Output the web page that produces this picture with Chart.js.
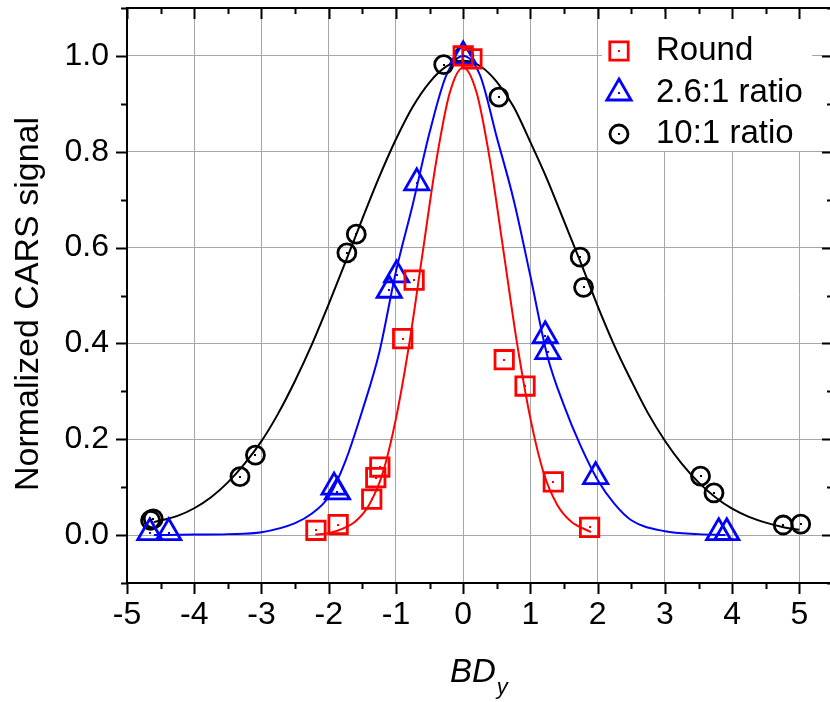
<!DOCTYPE html>
<html>
<head>
<meta charset="utf-8">
<script src="https://cdn.jsdelivr.net/npm/chart.js@4.4.1/dist/chart.umd.min.js"></script>
<style>
  html, body { margin: 0; padding: 0; background: #fff; overflow: hidden; }
  #wrap { width: 840px; height: 702px; }
</style>
</head>
<body>
<div id="wrap"><canvas id="chart" width="840" height="702"></canvas></div>
<script>
/* ---------- measured points ---------- */
const roundX = [-2.19, -1.86, -1.36, -1.30, -1.24, -0.90, -0.73, 0.0, 0.13, 0.61, 0.92, 1.34, 1.88];
const roundY = [0.010, 0.022, 0.075, 0.120, 0.142, 0.410, 0.532, 1.0, 0.994, 0.366, 0.311, 0.111, 0.016];

const ratio26X = [-4.66, -4.38, -1.92, -1.87, -1.10, -0.99, -0.69, 0.0, 1.22, 1.26, 1.97, 3.80, 3.92];
const ratio26Y = [0.005, 0.005, 0.100, 0.090, 0.511, 0.543, 0.735, 1.0, 0.416, 0.383, 0.122, 0.005, 0.005];

const ratio10X = [-4.65, -4.61, -3.32, -3.09, -1.73, -1.59, -0.29, 0.01, 0.53, 1.74, 1.79, 3.53, 3.73, 4.76, 5.02];
const ratio10Y = [0.031, 0.034, 0.122, 0.167, 0.589, 0.628, 0.982, 1.0, 0.914, 0.580, 0.517, 0.123, 0.088, 0.021, 0.023];

/* ---------- fitted curves ---------- */
const fitRoundX = [-2.2, -2.0, -1.8, -1.6, -1.4, -1.2, -1.0, -0.8, -0.6, -0.4, -0.2, 0, 0.2, 0.4, 0.6, 0.8, 1.0, 1.2, 1.4, 1.6, 1.9];
const fitRoundY = [0.001, 0.004, 0.013, 0.029, 0.063, 0.128, 0.243, 0.401, 0.592, 0.781, 0.923, 0.976, 0.923, 0.781, 0.592, 0.401, 0.243, 0.128, 0.063, 0.029, 0.006];

const fit26X = [-4.6, -4.0, -3.5, -3.0, -2.5, -2.25, -2.0, -1.75, -1.5, -1.25, -1.0, -0.75, -0.5, -0.25, 0, 0.25, 0.5, 0.75, 1.0, 1.25, 1.5, 1.75, 2.0, 2.25, 2.5, 3.0, 3.5, 3.9];
const fit26Y = [0.0, 0.001, 0.002, 0.006, 0.025, 0.045, 0.08, 0.155, 0.26, 0.38, 0.55, 0.69, 0.84, 0.96, 1.0, 0.96, 0.83, 0.70, 0.54, 0.375, 0.27, 0.185, 0.115, 0.065, 0.031, 0.008, 0.002, 0.0];

const fit10X = [-4.6, -4.25, -4.0, -3.75, -3.5, -3.25, -3.0, -2.75, -2.5, -2.25, -2.0, -1.75, -1.5, -1.25, -1.0, -0.75, -0.5, -0.25, 0, 0.25, 0.5, 0.75, 1.0, 1.25, 1.5, 1.75, 2.0, 2.25, 2.5, 2.75, 3.0, 3.25, 3.5, 3.75, 4.0, 4.25, 4.5, 4.75, 5.0];
const fit10Y = [0.027, 0.04, 0.056, 0.079, 0.11, 0.149, 0.196, 0.254, 0.322, 0.398, 0.482, 0.57, 0.66, 0.747, 0.826, 0.894, 0.945, 0.978, 0.99, 0.979, 0.946, 0.894, 0.82, 0.742, 0.655, 0.568, 0.478, 0.395, 0.322, 0.254, 0.197, 0.149, 0.11, 0.079, 0.055, 0.038, 0.026, 0.017, 0.011];

/* ---------- axes ---------- */
const xTicks = [-5, -4, -3, -2, -1, 0, 1, 2, 3, 4, 5];
const yTicks = [0, 0.2, 0.4, 0.6, 0.8, 1.0];
const seriesNames = ["Round", "2.6:1 ratio", "10:1 ratio"];
const seriesColors = ["#ff0000", "#0000ff", "#000000"];
const seriesStyles = ["rect", "triangle", "circle"];
const seriesRadius = [13, 14, 9];

const FONT = '"Liberation Sans", Arial, sans-serif';
Chart.defaults.font.family = FONT;
Chart.defaults.color = "#000";

function pts(xs, ys) {
    return xs.map((x, i) => ({ x: x, y: ys[i] }));
}

function markerSet(i, xs, ys) {
    return {
        label: seriesNames[i],
        data: pts(xs, ys),
        showLine: false,
        pointStyle: seriesStyles[i],
        pointRadius: seriesRadius[i],
        pointBorderWidth: 2.8,
        pointBorderColor: seriesColors[i],
        pointBackgroundColor: "rgba(0,0,0,0)",
        order: 0
    };
}

function curveSet(i, xs, ys) {
    return {
        label: seriesNames[i] + " fit",
        data: pts(xs, ys),
        showLine: true,
        borderColor: seriesColors[i],
        borderWidth: 2,
        pointRadius: 0,
        cubicInterpolationMode: "monotone",
        order: 1
    };
}

function drawMarker(ctx, style, x, y, r) {
    ctx.beginPath();
    if (style === "rect") {
        const s = r * Math.SQRT1_2;
        ctx.rect(x - s, y - s, 2 * s, 2 * s);
    } else if (style === "triangle") {
        for (let k = 0; k < 3; k++) {
            const a = -Math.PI / 2 + k * 2 * Math.PI / 3;
            const px = x + Math.cos(a) * r, py = y + Math.sin(a) * r;
            if (k === 0) ctx.moveTo(px, py); else ctx.lineTo(px, py);
        }
        ctx.closePath();
    } else {
        ctx.arc(x, y, r, 0, Math.PI * 2);
    }
    ctx.stroke();
}

function noPad(s) {
    s.paddingTop = 0; s.paddingBottom = 0;
    s.paddingLeft = 0; s.paddingRight = 0;
}

/* frame, inward/outward ticks, legend, titles */
const decorPlugin = {
    id: "decor",
    afterDatasetsDraw(chart) {
        const ctx = chart.ctx;
        // little dot in the middle of every symbol
        for (let i = 0; i < 3; i++) {
            ctx.fillStyle = seriesColors[i];
            chart.getDatasetMeta(i).data.forEach(p => {
                ctx.fillRect(Math.round(p.x) - 1, Math.round(p.y) - 1, 2, 2);
            });
        }
    },
    afterDraw(chart) {
        const ctx = chart.ctx;
        const ca = chart.chartArea;
        const xs = chart.scales.x, ys = chart.scales.y;
        ctx.save();

        // legend
        ctx.fillStyle = "#fff";
        ctx.fillRect(602, 12, 210, 139);
        const rows = [51, 93, 134];
        for (let i = 0; i < 3; i++) {
            ctx.strokeStyle = seriesColors[i];
            ctx.lineWidth = 2.8;
            drawMarker(ctx, seriesStyles[i], 619, rows[i], seriesRadius[i]);
            ctx.fillStyle = seriesColors[i];
            ctx.fillRect(618, rows[i] - 1, 2, 2);
            ctx.fillStyle = "#000";
            ctx.font = "33px " + FONT;
            ctx.textAlign = "left";
            ctx.textBaseline = "middle";
            ctx.fillText(seriesNames[i], 656, rows[i]);
        }

        // frame
        ctx.strokeStyle = "#000";
        ctx.lineWidth = 2;
        ctx.strokeRect(ca.left, ca.top, ca.right - ca.left, ca.bottom - ca.top);

        // x ticks (bottom outward, top inward)
        ctx.beginPath();
        for (let k = -10; k <= 11; k++) {
            const v = k / 2;
            const px = Math.round(xs.getPixelForValue(v)) + 0.5;
            const len = (k % 2 === 0) ? 11 : 6;
            ctx.moveTo(px, ca.bottom); ctx.lineTo(px, ca.bottom + len);
            ctx.moveTo(px, ca.top); ctx.lineTo(px, ca.top + len);
        }
        // y ticks (left outward, right inward)
        for (let k = -1; k <= 11; k++) {
            const py = Math.round(ys.getPixelForValue(k / 10)) + 0.5;
            const len = (k % 2 === 0) ? 11 : 6;
            ctx.moveTo(ca.left, py); ctx.lineTo(ca.left - len, py);
            ctx.moveTo(ca.right, py); ctx.lineTo(ca.right - len, py);
        }
        ctx.stroke();

        // y title
        ctx.fillStyle = "#000";
        ctx.font = "34px " + FONT;
        ctx.translate(38, 304);
        ctx.rotate(-Math.PI / 2);
        ctx.textAlign = "center";
        ctx.textBaseline = "alphabetic";
        ctx.fillText("Normalized CARS signal", 0, 0);
        ctx.setTransform(1, 0, 0, 1, 0, 0);

        // x title  BD_y
        ctx.textAlign = "left";
        ctx.font = "italic 33px " + FONT;
        ctx.fillText("BD", 450, 682);
        const w = ctx.measureText("BD").width;
        ctx.font = "italic 22px " + FONT;
        ctx.fillText("y", 450 + w + 1, 694);
        ctx.restore();
    }
};

new Chart(document.getElementById("chart"), {
    type: "scatter",
    data: {
        datasets: [
            markerSet(0, roundX, roundY),
            markerSet(1, ratio26X, ratio26Y),
            markerSet(2, ratio10X, ratio10Y),
            curveSet(0, fitRoundX, fitRoundY),
            curveSet(1, fit26X, fit26Y),
            curveSet(2, fit10X, fit10Y)
        ]
    },
    options: {
        responsive: false,
        animation: false,
        devicePixelRatio: 1,
        layout: { autoPadding: false, padding: { top: 8, right: 7, left: 0, bottom: 0 } },
        plugins: { legend: { display: false }, tooltip: { enabled: false } },
        scales: {
            x: {
                type: "linear",
                min: -5,
                max: 5.5,
                afterBuildTicks: s => { s.ticks = xTicks.map(v => ({ value: v })); },
                afterFit: s => { s.height = 119; noPad(s); },
                grid: { color: "#a6a6a6", lineWidth: 1, drawTicks: false },
                border: { display: false },
                ticks: { padding: 13, maxRotation: 0, font: { size: 32 }, color: "#000", callback: v => String(v) }
            },
            y: {
                type: "linear",
                min: -0.1,
                max: 1.1,
                afterBuildTicks: s => { s.ticks = yTicks.map(v => ({ value: v })); },
                afterFit: s => { s.width = 127; noPad(s); },
                grid: { color: "#a6a6a6", lineWidth: 1, drawTicks: false },
                border: { display: false },
                ticks: { padding: 18, font: { size: 32 }, color: "#000", callback: v => v.toFixed(1) }
            }
        }
    },
    plugins: [decorPlugin]
});
</script>
</body>
</html>
